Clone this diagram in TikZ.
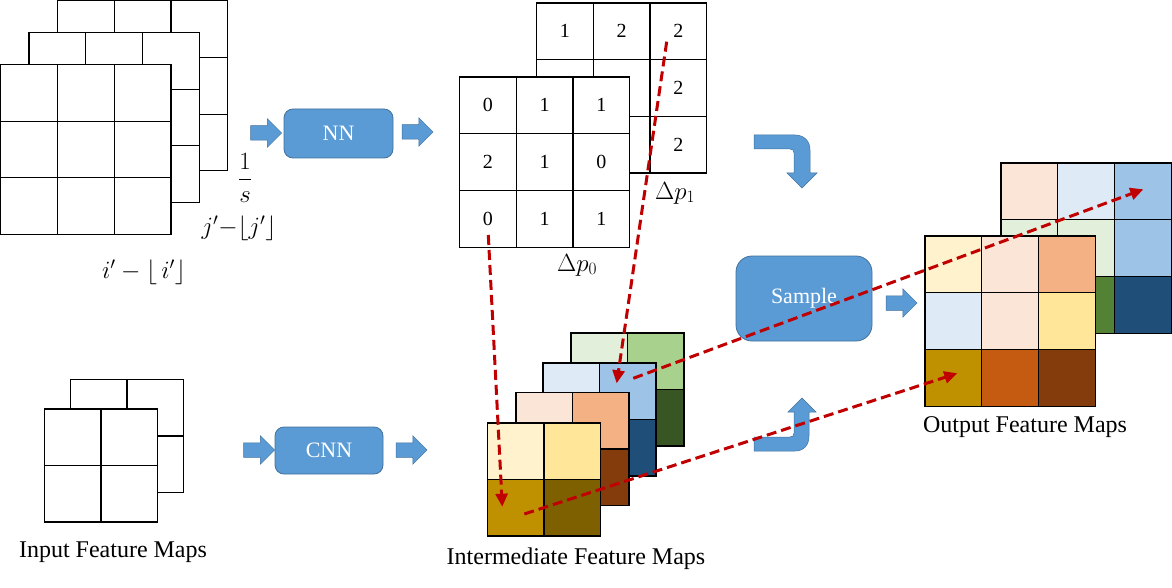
\documentclass[tikz,border=0pt]{standalone}
\usepackage{amsmath}
\usepackage{fontspec}
\setmainfont{Liberation Serif}
\usetikzlibrary{arrows.meta, shapes.arrows}
\definecolor{boxblue}{RGB}{91,155,213}
\definecolor{boxedge}{RGB}{65,113,156}
\definecolor{dashred}{RGB}{192,0,0}
\definecolor{ylight}{HTML}{FFF2CC}
\definecolor{ymid}{HTML}{FFE699}
\definecolor{ydark}{HTML}{BF9000}
\definecolor{ydeep}{HTML}{7F6000}
\definecolor{olight}{HTML}{FBE5D6}
\definecolor{omid}{HTML}{F4B183}
\definecolor{odark}{HTML}{C55A11}
\definecolor{odeep}{HTML}{843C0C}
\definecolor{blight}{HTML}{DEEBF7}
\definecolor{bmid}{HTML}{9DC3E6}
\definecolor{bdeep}{HTML}{1F4E79}
\definecolor{glight}{HTML}{E2EFDA}
\definecolor{gmid}{HTML}{A9D18E}
\definecolor{gdark}{HTML}{548235}
\definecolor{gdeep}{HTML}{375623}

\begin{document}
\begin{tikzpicture}[x=1pt, y=-1pt,
  cell/.style={draw, fill=white, line width=1.2pt, minimum size=56.7pt,
    inner sep=0pt, outer sep=0pt, font=\fontsize{20}{24}\selectfont},
  proc/.style={draw=boxedge, fill=boxblue, line width=0.8pt, rounded corners=9pt,
    text=white, font=\fontsize{22}{26}\selectfont},
  blockarr/.style={single arrow, draw=boxedge, fill=boxblue, line width=0.5pt,
    minimum height=31pt, inner xsep=0pt, inner ysep=7pt,
    single arrow head extend=7pt},
  lbl/.style={font=\fontsize{24}{28}\selectfont},
  mlbl/.style={font=\fontsize{23}{27}\selectfont},
  klbl/.style={font=\fontsize{27}{31}\selectfont},
  offset/.style={dashred, line width=3pt, dash pattern=on 10pt off 5pt,
    -{Triangle[length=13pt,width=12pt]}}]
  \useasboundingbox (0,0) rectangle (1172,588);

  % kernel stack, three layers back to front
  \def\cs{56.7}
  \foreach \x/\y/\n in {57.5/0.8/a, 29/32.5/b, 0.8/64.5/c}
    \foreach \r in {0,1,2}
      \foreach \c in {0,1,2}
        \node[cell] (k\n-\r\c) at (\x+\cs/2+\c*\cs, \y+\cs/2+\r*\cs) {};
  \node[klbl] (sinv) at (245,178) {$\dfrac{1}{s}$};
  \node[klbl] (jfrac) at (239,228) {$j'{-}\lfloor j'\rfloor$};
  \node[klbl] (ifrac) at (144,272) {$i'-\lfloor\, i'\rfloor$};

  % NN branch
  \node[blockarr] (nnin) at (262.5,133) {};
  \node[proc, minimum width=109pt, minimum height=49pt] (nn) at (338.5,133.5) {NN};
  \node[blockarr] (nnout) at (414,132) {};

  % offsets
  \foreach \r/\c/\v in {0/0/1, 0/1/2, 0/2/2, 1/0/{}, 1/1/{}, 1/2/2, 2/0/{}, 2/1/{}, 2/2/2}
    \node[cell] (p1-\r\c) at (536.5+\cs/2+\c*\cs, 3+\cs/2+\r*\cs) {\v};
  \foreach \r/\c/\v in {0/0/0, 0/1/1, 0/2/1, 1/0/2, 1/1/1, 1/2/0, 2/0/0, 2/1/1, 2/2/1}
    \node[cell] (p0-\r\c) at (459.5+\cs/2+\c*\cs, 77+\cs/2+\r*\cs) {\v};
  \node[mlbl] (dp1) at (675,193) {$\Delta p_1$};
  \node[mlbl] (dp0) at (577,265) {$\Delta p_0$};

  % input feature maps
  \foreach \x/\y/\n in {70.5/379.5/a, 44.5/409/b}
    \foreach \r in {0,1}
      \foreach \c in {0,1}
        \node[cell, minimum size=56.5pt] (in\n-\r\c) at (\x+28.25+\c*56.5, \y+28.25+\r*56.5) {};
  \node[lbl] (inlbl) at (113,552) {Input Feature Maps};

  % CNN branch
  \node[blockarr] (cnnin) at (255.5,450) {};
  \node[proc, minimum width=108pt, minimum height=47pt] (cnn) at (329,450.5) {CNN};
  \node[blockarr] (cnnout) at (408,450) {};

  % intermediate feature maps
  \foreach \x/\y/\n/\ca/\cb/\cc/\cd in {571/333/d/glight/gmid/gdark/gdeep,
      543/363/c/blight/bmid/bdeep/bdeep, 516/392.5/b/olight/omid/odeep/odeep,
      487.5/423/a/ylight/ymid/ydark/ydeep} {
    \node[cell, minimum size=56.5pt, fill=\ca] (m\n-00) at (\x+28.25, \y+28.25) {};
    \node[cell, minimum size=56.5pt, fill=\cb] (m\n-01) at (\x+84.75, \y+28.25) {};
    \node[cell, minimum size=56.5pt, fill=\cc] (m\n-10) at (\x+28.25, \y+84.75) {};
    \node[cell, minimum size=56.5pt, fill=\cd] (m\n-11) at (\x+84.75, \y+84.75) {};
  }
  \node[lbl] (midlbl) at (576,559) {Intermediate Feature Maps};

  % bent arrows into the sampler
  \fill[boxblue, draw=boxedge, line width=0.5pt]
    (754,135) -- (795,135) .. controls (804,135) and (810,141) .. (810,150)
    -- (810,173) -- (817,173) -- (802,188) -- (787,173) -- (794,173) -- (794,153)
    .. controls (794,150.5) and (793,149) .. (790,149) -- (754,149) -- cycle;
  \fill[boxblue, draw=boxedge, line width=0.5pt]
    (754,451) -- (795,451) .. controls (804,451) and (809,445) .. (809,436)
    -- (809,412) -- (816,412) -- (802,398) -- (788,412) -- (794,412) -- (794,433)
    .. controls (794,435.5) and (793,437) .. (790,437) -- (754,437) -- cycle;
  \node[proc, rounded corners=16pt, minimum width=136pt, minimum height=85pt] (smp)
    at (804,298.5) {Sample};
  \node[blockarr] (smpout) at (898,303) {};

  % output feature maps
  \foreach \r/\c/\col in {0/0/olight, 0/1/blight, 0/2/bmid, 1/0/glight, 1/1/glight,
      1/2/bmid, 2/0/gdark, 2/1/gdark, 2/2/bdeep}
    \node[cell, fill=\col] (ob-\r\c) at (1001+\cs/2+\c*\cs, 163+\cs/2+\r*\cs) {};
  \foreach \r/\c/\col in {0/0/ylight, 0/1/olight, 0/2/omid, 1/0/blight, 1/1/olight,
      1/2/ymid, 2/0/ydark, 2/1/odark, 2/2/odeep}
    \node[cell, fill=\col] (of-\r\c) at (925+\cs/2+\c*\cs, 236+\cs/2+\r*\cs) {};
  \node[lbl] (outlbl) at (1025,427) {Output Feature Maps};

  % sampling paths
  \coordinate (s0) at (488.3,235);
  \coordinate (e0) at (502.3,506.7);
  \coordinate (s1) at (666.7,41.7);
  \coordinate (e1) at (616.7,383.3);
  \coordinate (s2) at (633.3,378.3);
  \coordinate (e2) at (1143.3,189.3);
  \coordinate (s3) at (524.3,514);
  \coordinate (e3) at (957.3,373.3);
  \draw[offset] (s0) -- (e0);
  \draw[offset] (s1) -- (e1);
  \draw[offset] (s2) -- (e2);
  \draw[offset] (s3) -- (e3);
\end{tikzpicture}
\end{document}
